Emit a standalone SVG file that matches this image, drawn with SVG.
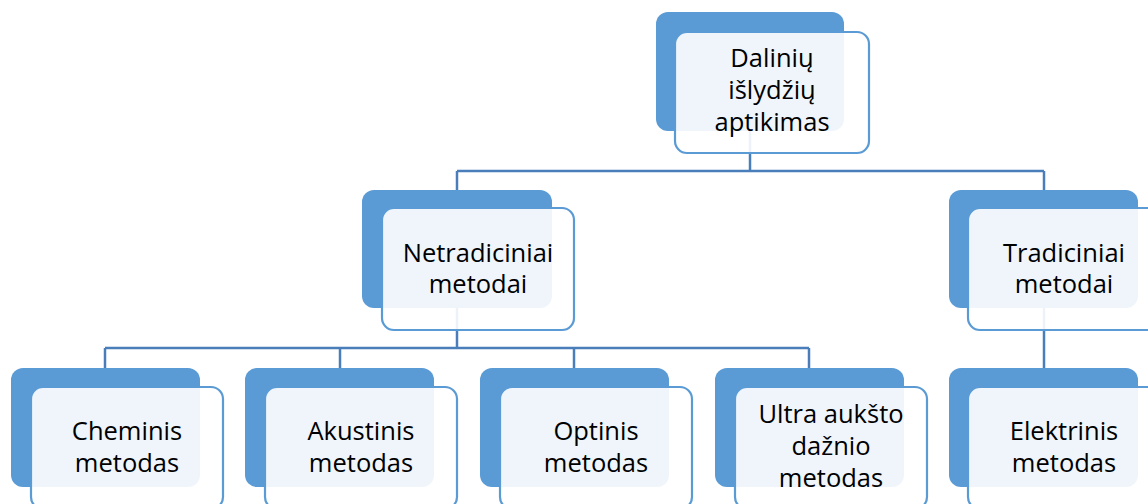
<svg xmlns="http://www.w3.org/2000/svg" width="1148" height="504" viewBox="0 0 1148 504">
<style>
.back{fill:#5B9BD5;}
.front{fill:#FFFFFF;fill-opacity:0.9;stroke:#5B9BD5;stroke-width:2.2;}
.lbl{font-family:"Open Sans","Liberation Sans",sans-serif;font-size:25.5px;fill:#000;text-anchor:middle;}
.conn{fill:none;stroke:#4A7EBB;stroke-width:2.5;}
</style>
<rect width="1148" height="504" fill="#FFFFFF"/>
<g id="connectors" class="conn">
<path d="M750,131 V171"/>
<path d="M457,171 H1044"/>
<path d="M457,171 V190"/>
<path d="M1044,171 V190"/>
<path d="M457,308 V348"/>
<path d="M105,348 H809"/>
<path d="M105,348 V368"/>
<path d="M340,348 V368"/>
<path d="M574,348 V368"/>
<path d="M809,348 V368"/>
<path d="M1044,308 V368"/>
</g>
<g id="n-dalin">
<rect class="back" x="656" y="12" width="188" height="119" rx="12"/>
<rect class="front" x="675" y="32" width="194" height="121" rx="12"/>
<text class="lbl"><tspan x="772" y="67">Dalinių</tspan><tspan x="772" y="99">išlydžių</tspan><tspan x="772" y="131">aptikimas</tspan></text>
</g>
<g id="n-netrad">
<rect class="back" x="362" y="190" width="190" height="118" rx="12"/>
<rect class="front" x="382" y="208" width="192" height="122" rx="12"/>
<text class="lbl"><tspan x="478" y="262">Netradiciniai</tspan><tspan x="478" y="293">metodai</tspan></text>
</g>
<g id="n-trad">
<rect class="back" x="949" y="190" width="189" height="118" rx="12"/>
<rect class="front" x="968" y="208" width="192" height="122" rx="12"/>
<text class="lbl"><tspan x="1064" y="262">Tradiciniai</tspan><tspan x="1064" y="293">metodai</tspan></text>
</g>
<g id="n-chem">
<rect class="back" x="11" y="368" width="189" height="119" rx="12"/>
<rect class="front" x="31" y="387" width="192" height="122" rx="12"/>
<text class="lbl"><tspan x="127" y="440">Cheminis</tspan><tspan x="127" y="472">metodas</tspan></text>
</g>
<g id="n-akust">
<rect class="back" x="245" y="368" width="189" height="119" rx="12"/>
<rect class="front" x="265" y="387" width="192" height="122" rx="12"/>
<text class="lbl"><tspan x="361" y="440">Akustinis</tspan><tspan x="361" y="472">metodas</tspan></text>
</g>
<g id="n-opt">
<rect class="back" x="480" y="368" width="189" height="119" rx="12"/>
<rect class="front" x="500" y="387" width="192" height="122" rx="12"/>
<text class="lbl"><tspan x="596" y="440">Optinis</tspan><tspan x="596" y="472">metodas</tspan></text>
</g>
<g id="n-ultra">
<rect class="back" x="715" y="368" width="189" height="119" rx="12"/>
<rect class="front" x="735" y="387" width="192" height="122" rx="12"/>
<text class="lbl"><tspan x="831" y="423">Ultra aukšto</tspan><tspan x="831" y="455">dažnio</tspan><tspan x="831" y="487">metodas</tspan></text>
</g>
<g id="n-elektr">
<rect class="back" x="949" y="368" width="189" height="119" rx="12"/>
<rect class="front" x="968" y="387" width="192" height="122" rx="12"/>
<text class="lbl"><tspan x="1064" y="440">Elektrinis</tspan><tspan x="1064" y="472">metodas</tspan></text>
</g>
</svg>
